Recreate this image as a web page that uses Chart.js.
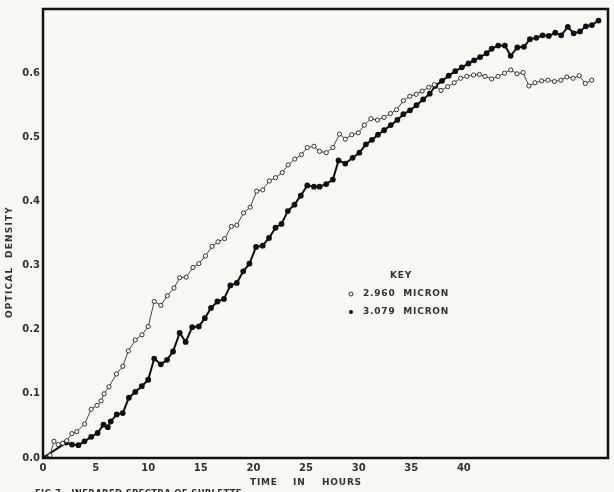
<!DOCTYPE html>
<html>
<head>
<meta charset="utf-8">
<script src="https://cdn.jsdelivr.net/npm/chart.js@4"></script>
<style>
  html, body { margin: 0; padding: 0; background: #f9f9f4; }
  #wrap { width: 614px; height: 492px; }
</style>
</head>
<body>
<div id="wrap"><canvas id="odChart" width="614" height="492"></canvas></div>
<script>
// 2.960 micron (open circles)
const hours2960 = [0, 0.66, 1.04, 1.44, 1.86, 2.26, 2.74, 3.21, 3.96, 4.58, 5.14, 5.52, 5.80, 6.27, 6.98, 7.59, 8.11, 8.77, 9.41, 10.00,
  10.57, 11.20, 11.82, 12.45, 12.99, 13.61, 14.25, 14.81, 15.44, 16.07, 16.63, 17.26, 17.90, 18.42, 19.06, 19.69, 20.31, 20.88, 21.51, 22.10,
  22.74, 23.30, 23.93, 24.56, 25.12, 25.75, 26.29, 26.92, 27.55, 28.18, 28.73, 29.34, 29.97, 30.54, 31.16, 31.79, 32.41, 33.02, 33.60, 34.25,
  34.86, 35.47, 36.04, 36.67, 37.20, 37.83, 38.46, 39.08, 39.69, 40.28, 40.92, 41.48, 42.01, 42.64, 43.25, 43.87, 44.46, 45.05, 45.63, 46.18,
  46.76, 47.39, 47.99, 48.61, 49.22, 49.79, 50.38, 50.97, 51.54, 52.15];
const od2960 = [0, 0.004, 0.026, 0.021, 0.023, 0.027, 0.038, 0.041, 0.053, 0.076, 0.082, 0.089, 0.100, 0.111, 0.131, 0.143, 0.167, 0.184, 0.192, 0.205,
  0.244, 0.238, 0.253, 0.265, 0.281, 0.282, 0.297, 0.303, 0.315, 0.330, 0.337, 0.342, 0.361, 0.363, 0.382, 0.391, 0.416, 0.418, 0.432, 0.437,
  0.445, 0.457, 0.466, 0.473, 0.484, 0.486, 0.478, 0.476, 0.484, 0.505, 0.497, 0.504, 0.507, 0.519, 0.529, 0.527, 0.531, 0.537, 0.543, 0.557,
  0.564, 0.567, 0.572, 0.578, 0.582, 0.573, 0.579, 0.585, 0.592, 0.595, 0.597, 0.598, 0.595, 0.591, 0.595, 0.600, 0.605, 0.599, 0.601, 0.580,
  0.585, 0.588, 0.589, 0.587, 0.589, 0.594, 0.592, 0.596, 0.584, 0.589];

// 3.079 micron (filled dots)
const hours3079 = [0, 2.20, 2.76, 3.37, 3.94, 4.58, 5.19, 5.75, 6.16, 6.44, 7.01, 7.58, 8.16, 8.77, 9.39, 10.00, 10.57, 11.20, 11.79, 12.36,
  12.99, 13.56, 14.18, 14.81, 15.38, 15.97, 16.58, 17.20, 17.80, 18.42, 19.03, 19.62, 20.25, 20.88, 21.48, 22.10, 22.67, 23.27, 23.90, 24.50,
  25.12, 25.75, 26.29, 26.92, 27.55, 28.09, 28.73, 29.43, 30.07, 30.69, 31.27, 31.84, 32.42, 33.05, 33.68, 34.25, 34.88, 35.50, 36.13, 36.76,
  37.29, 37.92, 38.56, 39.18, 39.81, 40.44, 40.97, 41.54, 42.17, 42.64, 43.27, 43.90, 44.45, 45.08, 45.71, 46.28, 46.89, 47.48, 48.07, 48.69,
  49.25, 49.88, 50.44, 51.04, 51.60, 52.17, 52.80];
const od3079 = [0, 0.024, 0.021, 0.020, 0.026, 0.033, 0.039, 0.052, 0.048, 0.057, 0.068, 0.070, 0.094, 0.103, 0.112, 0.122, 0.155, 0.146, 0.153, 0.166,
  0.195, 0.181, 0.204, 0.205, 0.218, 0.234, 0.244, 0.248, 0.269, 0.273, 0.291, 0.303, 0.329, 0.331, 0.343, 0.359, 0.365, 0.385, 0.395, 0.409,
  0.425, 0.423, 0.423, 0.427, 0.434, 0.464, 0.459, 0.468, 0.476, 0.489, 0.496, 0.504, 0.511, 0.519, 0.527, 0.536, 0.542, 0.550, 0.559, 0.568,
  0.580, 0.588, 0.596, 0.603, 0.609, 0.615, 0.620, 0.625, 0.631, 0.638, 0.643, 0.643, 0.627, 0.640, 0.641, 0.653, 0.655, 0.659, 0.658, 0.663,
  0.659, 0.672, 0.662, 0.665, 0.673, 0.675, 0.682];

const xTicks = [0, 5, 10, 15, 20, 25, 30, 35, 40];
const yTicks = [0, 0.1, 0.2, 0.3, 0.4, 0.5, 0.6];
const seriesNames = ["2.960  MICRON", "3.079  MICRON"];

const ink = "#333";
const font = "'DejaVu Sans', sans-serif";

function toPoints(xs, ys) {
  return xs.map((x, i) => ({ x: x, y: ys[i] }));
}

// frame, axis titles, key and the cut-off caption are drawn by hand like the plate
const platePlugin = {
  id: "plate",
  afterDraw(chart) {
    const ctx = chart.ctx;
    const a = chart.chartArea;
    ctx.save();
    ctx.strokeStyle = "#111";
    ctx.lineWidth = 2.5;
    ctx.strokeRect(a.left, a.top, a.right - a.left, a.bottom - a.top);

    ctx.fillStyle = ink;
    ctx.letterSpacing = "0.8px";
    ctx.font = "bold 9px " + font;
    ctx.textBaseline = "middle";

    // x title
    ctx.textAlign = "left";
    ctx.fillText("TIME", 250, 483);
    ctx.fillText("IN", 293, 483);
    ctx.fillText("HOURS", 322, 483);

    // caption, mostly below the bottom edge
    ctx.textBaseline = "alphabetic";
    ctx.letterSpacing = "0.3px";
    ctx.font = "bold 8.5px " + font;
    ctx.fillText("FIG 7.  INFRARED SPECTRA OF SUBLETTE", 35, 496);
    ctx.font = "bold 9px " + font;
    ctx.textBaseline = "middle";

    // y title
    ctx.save();
    ctx.translate(10, 262);
    ctx.rotate(-Math.PI / 2);
    ctx.textAlign = "center";
    ctx.letterSpacing = "1.2px";
    ctx.fillText("OPTICAL  DENSITY", 0, 0);
    ctx.restore();

    // key
    ctx.letterSpacing = "0.8px";
    ctx.textAlign = "center";
    ctx.fillText("KEY", 401, 276);
    ctx.textAlign = "left";
    ctx.fillText(seriesNames[0], 363, 294);
    ctx.fillText(seriesNames[1], 363, 312);
    ctx.lineWidth = 1;
    ctx.strokeStyle = "#333";
    ctx.fillStyle = "#fff";
    ctx.beginPath();
    ctx.arc(351, 294, 2, 0, Math.PI * 2);
    ctx.fill();
    ctx.stroke();
    ctx.fillStyle = "#111";
    ctx.beginPath();
    ctx.arc(351, 312, 2, 0, Math.PI * 2);
    ctx.fill();
    ctx.restore();
  },
};

const ctx = document.getElementById("odChart").getContext("2d");
new Chart(ctx, {
  type: "line",
  data: {
    datasets: [
      {
        label: seriesNames[0],
        data: toPoints(hours2960, od2960),
        borderColor: "#444",
        borderWidth: 1,
        pointRadius: 2.1,
        pointBorderWidth: 1,
        pointBackgroundColor: "#fbfbf7",
        pointBorderColor: "#333",
        tension: 0,
      },
      {
        label: seriesNames[1],
        data: toPoints(hours3079, od3079),
        borderColor: "#111",
        borderWidth: 2,
        pointRadius: 1.9,
        pointBackgroundColor: "#111",
        pointBorderColor: "#111",
        tension: 0,
      },
    ],
  },
  options: {
    responsive: false,
    animation: false,
    layout: { padding: { top: 5, right: 2, left: 0, bottom: 0 } },
    plugins: { legend: { display: false }, tooltip: { enabled: false } },
    scales: {
      x: {
        type: "linear",
        min: 0,
        max: 53.7,
        grid: { display: false, drawTicks: false },
        border: { display: false },
        afterBuildTicks: (scale) => {
          scale.ticks = xTicks.map((v) => ({ value: v }));
        },
        afterFit: (scale) => {
          scale.height = 34;
        },
        ticks: {
          autoSkip: false,
          maxRotation: 0,
          padding: 4,
          color: ink,
          font: { family: font, size: 10, weight: "bold" },
          callback: (v) => String(v),
        },
      },
      y: {
        min: 0,
        max: 0.7,
        grid: { display: false, drawTicks: false },
        border: { display: false },
        afterBuildTicks: (scale) => {
          scale.ticks = yTicks.map((v) => ({ value: v }));
        },
        afterFit: (scale) => {
          scale.width = 43;
        },
        ticks: {
          padding: 3,
          color: ink,
          font: { family: font, size: 10, weight: "bold" },
          callback: (v) => v.toFixed(1),
        },
      },
    },
  },
  plugins: [platePlugin],
});
</script>
</body>
</html>
